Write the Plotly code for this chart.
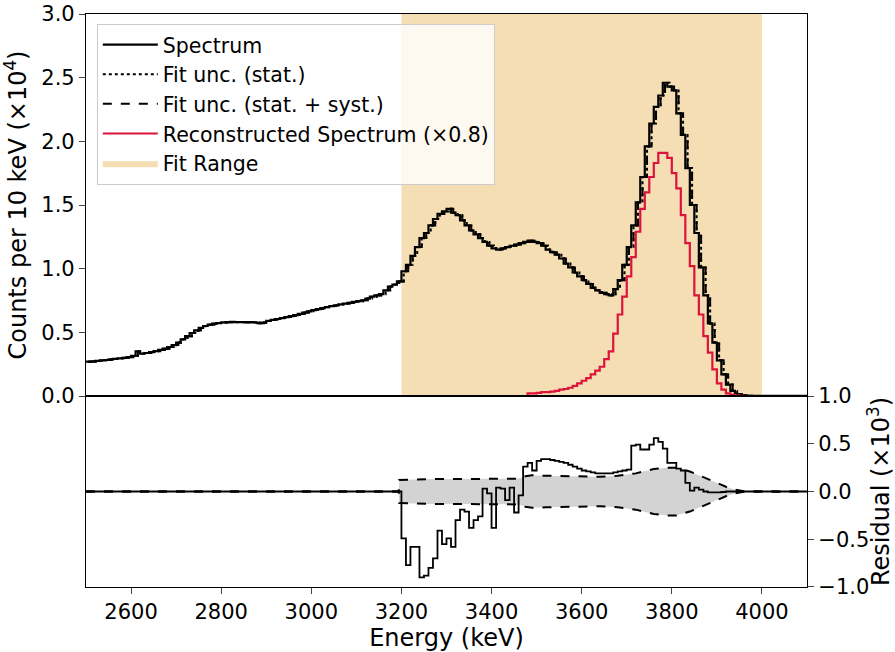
import numpy as np
import plotly.graph_objects as go

# ---------------- data ----------------
BIN_START = 2500
BIN_WIDTH = 10
# Measured spectrum (x1e4 counts per 10 keV), bins from 2500 to 4100 keV
spectrum = [
    0.270, 0.272, 0.276, 0.280, 0.283, 0.287, 0.292, 0.296, 0.300, 0.305,   # 2500
    0.315, 0.350, 0.333, 0.338, 0.345, 0.352, 0.362, 0.372, 0.385, 0.400,   # 2600
    0.420, 0.445, 0.470, 0.495, 0.515, 0.535, 0.550, 0.560, 0.568, 0.573,   # 2700
    0.578, 0.580, 0.582, 0.580, 0.581, 0.579, 0.580, 0.578, 0.572, 0.577,   # 2800
    0.590, 0.598, 0.605, 0.612, 0.620, 0.628, 0.636, 0.645, 0.655, 0.665,   # 2900
    0.675, 0.683, 0.690, 0.698, 0.706, 0.713, 0.719, 0.726, 0.732, 0.740,   # 3000
    0.745, 0.752, 0.765, 0.780, 0.790, 0.800, 0.830, 0.860, 0.875, 0.900,   # 3100
    0.980, 1.030, 1.100, 1.170, 1.240, 1.280, 1.340, 1.390, 1.430, 1.450,   # 3200
    1.470, 1.440, 1.420, 1.380, 1.340, 1.300, 1.270, 1.240, 1.210, 1.180,   # 3300
    1.160, 1.150, 1.160, 1.170, 1.180, 1.190, 1.200, 1.210, 1.220, 1.210,   # 3400
    1.200, 1.180, 1.150, 1.130, 1.110, 1.080, 1.040, 1.010, 0.970, 0.940,   # 3500
    0.910, 0.880, 0.850, 0.830, 0.810, 0.800, 0.790, 0.840, 0.910, 1.030,   # 3600
    1.170, 1.340, 1.520, 1.720, 1.960, 2.140, 2.270, 2.360, 2.460, 2.430,   # 3700
    2.400, 2.220, 2.050, 1.790, 1.500, 1.280, 1.010, 0.790, 0.570, 0.420,   # 3800
    0.280, 0.170, 0.090, 0.040, 0.015, 0.006, 0.003, 0.002, 0.001, 0.001,   # 3900
    0.001, 0.001, 0.001, 0.001, 0.001, 0.001, 0.001, 0.001, 0.001, 0.001,   # 4000
]
# Reconstructed spectrum (x0.8, x1e4), bins from 2500 to 4100 keV
reconstructed = [0.0] * 98 + [
    0.020, 0.020,                                                           # 3480
    0.025, 0.030, 0.030, 0.035, 0.040, 0.050, 0.055, 0.065, 0.080, 0.100,   # 3500
    0.120, 0.140, 0.170, 0.200, 0.230, 0.290, 0.350, 0.490, 0.640, 0.780,   # 3600
    0.940, 1.090, 1.290, 1.470, 1.600, 1.720, 1.830, 1.910, 1.910, 1.870,   # 3700
    1.750, 1.630, 1.420, 1.200, 1.020, 0.790, 0.640, 0.470, 0.340, 0.210,   # 3800
    0.100, 0.050, 0.020, 0.010, 0.005, 0.002, 0.0, 0.0, 0.0, 0.0,           # 3900
    0.0, 0.0, 0.0, 0.0, 0.0, 0.0, 0.0, 0.0, 0.0, 0.0,                       # 4000
]
# Residual (x1e3), bins from 2500 to 4100 keV
residual = [0.0] * 70 + [
    -0.49, -0.77, -0.58, -0.58, -0.90, -0.88, -0.80, -0.70, -0.41, -0.55,   # 3200
    -0.49, -0.58, -0.30, -0.19, -0.21, -0.38, -0.30, -0.26, 0.03, -0.02,    # 3300
    -0.38, 0.04, 0.03, -0.09, 0.04, -0.22, -0.04, 0.26, 0.30, 0.22,         # 3400
    0.32, 0.34, 0.34, 0.33, 0.32, 0.31, 0.30, 0.28, 0.26, 0.24,             # 3500
    0.22, 0.21, 0.20, 0.19, 0.19, 0.19, 0.19, 0.20, 0.21, 0.22,             # 3600
    0.23, 0.48, 0.49, 0.44, 0.44, 0.49, 0.56, 0.52, 0.45, 0.30,             # 3700
    0.30, 0.24, 0.22, 0.09, 0.01, 0.04, 0.02, 0.00, -0.01, -0.01,           # 3800
    -0.01, -0.005, 0.0, 0.0, 0.0, 0.0, 0.0, 0.0, 0.0, 0.0,                  # 3900
    0.0, 0.0, 0.0, 0.0, 0.0, 0.0, 0.0, 0.0, 0.0, 0.0,                       # 4000
]
# Fit uncertainty band (stat. + syst.), half width (x1e3)
unc_energy = [2500, 3194, 3195, 3220, 3260, 3300, 3340, 3380, 3420, 3460, 3475,
              3490, 3520, 3560, 3600, 3640, 3680, 3720, 3760, 3790, 3810,
              3840, 3870, 3900, 3920, 3940, 3960, 4100]
unc_syst = [0.0, 0.0, 0.12, 0.125, 0.13, 0.13, 0.13, 0.13, 0.13, 0.135, 0.16,
            0.17, 0.165, 0.16, 0.155, 0.155, 0.165, 0.19, 0.235, 0.25, 0.25,
            0.21, 0.15, 0.09, 0.05, 0.02, 0.003, 0.0]
FIT_RANGE = [3200, 4000]
x_ticks = [2600, 2800, 3000, 3200, 3400, 3600, 3800, 4000]

# ---------------- figure ----------------
n = len(spectrum)
edges = BIN_START + BIN_WIDTH * np.arange(n + 1)
centers = edges[:-1] + BIN_WIDTH / 2


def step(vals):
    v = np.asarray(vals, dtype=float)
    return np.append(v, v[-1])


FONT = "DejaVu Sans, Liberation Sans, Arial, sans-serif"
fig = go.Figure()

# Fit range band
fig.add_trace(go.Scatter(
    x=[FIT_RANGE[0], FIT_RANGE[1], FIT_RANGE[1], FIT_RANGE[0], FIT_RANGE[0]],
    y=[0, 0, 3, 3, 0], fill="toself", fillcolor="#f5deb3", mode="lines",
    line=dict(width=0, color="#f5deb3"), name="Fit Range", legendrank=5,
    xaxis="x", yaxis="y", hoverinfo="skip"))

# Spectrum
fig.add_trace(go.Scatter(
    x=edges, y=step(spectrum), mode="lines", line_shape="hv",
    line=dict(color="black", width=2.2), name="Spectrum", legendrank=1,
    xaxis="x", yaxis="y"))
# Fit curves
fig.add_trace(go.Scatter(
    x=np.append(centers, centers[-1] + BIN_WIDTH), y=step(spectrum), mode="lines", line_shape="hv",
    line=dict(color="black", width=2, dash="dot"), name="Fit unc. (stat.)", legendrank=2,
    xaxis="x", yaxis="y"))
fig.add_trace(go.Scatter(
    x=np.append(centers, centers[-1] + BIN_WIDTH), y=step(spectrum), mode="lines", line_shape="hv",
    line=dict(color="black", width=2, dash="dash"), name="Fit unc. (stat. + syst.)", legendrank=3,
    xaxis="x", yaxis="y"))
# Reconstructed
fig.add_trace(go.Scatter(
    x=edges, y=step(reconstructed), mode="lines", line_shape="hv",
    line=dict(color="#dc143c", width=2.2), name="Reconstructed Spectrum (×0.8)", legendrank=4,
    xaxis="x", yaxis="y"))

# Residual panel
unc_up = np.asarray(unc_syst)
fig.add_trace(go.Scatter(
    x=unc_energy, y=-unc_up, mode="lines", line=dict(color="black", width=2, dash="dash"),
    showlegend=False, xaxis="x2", yaxis="y2"))
fig.add_trace(go.Scatter(
    x=unc_energy, y=unc_up, mode="lines", line=dict(color="black", width=2, dash="dash"),
    fill="tonexty", fillcolor="#d3d3d3", showlegend=False, xaxis="x2", yaxis="y2"))
fig.add_trace(go.Scatter(
    x=edges, y=step(residual), mode="lines", line_shape="hv",
    line=dict(color="black", width=1.8), showlegend=False, xaxis="x2", yaxis="y2"))

axis_common = dict(showline=True, linecolor="black", linewidth=1.2, mirror=True,
                   showgrid=False, zeroline=False, automargin=False,
                   tickfont=dict(family=FONT, size=21, color="black"))
TITLE_FONT = dict(family=FONT, size=24, color="black")

fig.update_layout(
    width=895, height=652,
    margin=dict(l=86, r=88, t=14, b=65),
    paper_bgcolor="white", plot_bgcolor="white",
    font=dict(family=FONT, color="black"),
    showlegend=True,
    legend=dict(x=0.015, y=0.983, xanchor="left", yanchor="top",
                bgcolor="rgba(255,255,255,0.8)", bordercolor="#cccccc", borderwidth=1,
                font=dict(family=FONT, size=20.5, color="black"), itemwidth=55,
                traceorder="normal"),
    xaxis=dict(range=[2500, 4100], domain=[0, 1], anchor="y", showticklabels=False,
               ticks="", **axis_common),
    yaxis=dict(range=[0, 3], domain=[0.3333, 1], anchor="x", tickvals=[0, 0.5, 1, 1.5, 2, 2.5, 3],
               tickformat=".1f", ticks="outside", ticklen=6, tickwidth=1.2,
               title=dict(text="Counts per 10 keV (×10<sup>4</sup>)", font=TITLE_FONT, standoff=8),
               **axis_common),
    xaxis2=dict(range=[2500, 4100], domain=[0, 1], anchor="y2", tickvals=x_ticks,
                ticks="outside", ticklen=6, tickwidth=1.2,
                title=dict(text="Energy (keV)", font=TITLE_FONT, standoff=4),
                **axis_common),
    yaxis2=dict(range=[-1, 1], domain=[0, 0.3333], anchor="x2", side="right",
                tickvals=[-1, -0.5, 0, 0.5, 1], tickformat=".1f", ticks="outside", ticklen=6,
                tickwidth=1.2,
                title=dict(text="Residual (×10<sup>3</sup>)", font=TITLE_FONT, standoff=6),
                **axis_common),
)

fig.write_html("out.html")
